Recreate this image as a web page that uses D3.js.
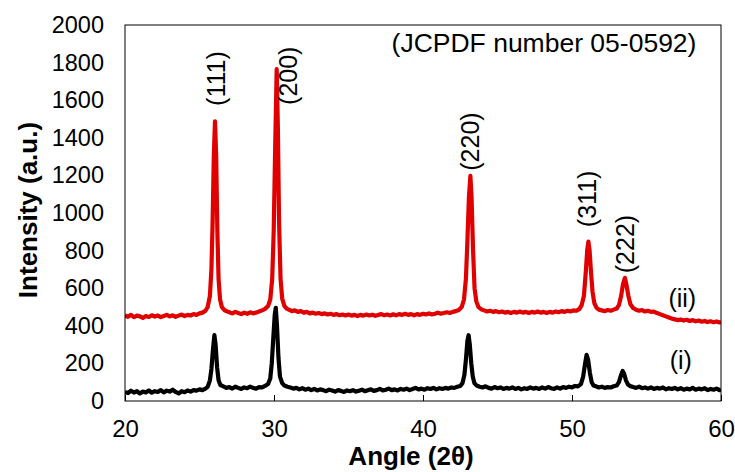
<!DOCTYPE html>
<html>
<head>
<meta charset="utf-8">
<script src="https://cdn.jsdelivr.net/npm/d3@7"></script>
<style>
  html, body { margin: 0; padding: 0; background: #fff; }
  svg { display: block; }
  text { font-family: "Liberation Sans", Arial, sans-serif; fill: #000; }
</style>
</head>
<body>
<div id="chart"></div>
<script>
// ---- data ----
const xTicks = [20, 30, 40, 50, 60];
const yTicks = [0, 200, 400, 600, 800, 1000, 1200, 1400, 1600, 1800, 2000];

// sample (ii) – red trace: [angle 2θ, intensity]
const seriesII = [
[20.0,455],[20.2,448],[20.4,458],[20.6,446],[20.8,454],[21.0,450],[21.2,442],[21.4,452],[21.6,447],[21.8,456],
[22.0,449],[22.2,455],[22.4,446],[22.6,452],[22.8,458],[23.0,450],[23.2,456],[23.4,448],[23.6,454],[23.8,460],
[24.0,452],[24.2,458],[24.4,455],[24.6,462],[24.8,458],[25.0,466],[25.2,470],[25.4,480],[25.55,500],[25.7,560],
[25.8,700],[25.88,950],[25.96,1300],[26.04,1488],[26.12,1300],[26.2,900],[26.28,650],[26.38,540],[26.5,500],[26.65,485],
[26.8,478],[27.0,472],[27.2,466],[27.4,474],[27.6,468],[27.8,462],[28.0,470],[28.2,464],[28.4,472],[28.6,466],
[28.8,470],[29.0,476],[29.2,482],[29.4,490],[29.6,505],[29.75,540],[29.88,650],[29.98,900],[30.08,1350],[30.18,1765],
[30.26,1450],[30.34,950],[30.44,650],[30.55,545],[30.7,505],[30.85,492],[31.0,486],[31.2,478],[31.4,482],[31.6,474],
[31.8,478],[32.0,470],[32.2,474],[32.4,466],[32.6,470],[32.8,464],[33.0,468],[33.2,462],[33.4,466],[33.6,460],
[33.8,464],[34.0,458],[34.2,462],[34.4,456],[34.6,460],[34.8,455],[35.0,460],[35.2,454],[35.4,458],[35.6,452],
[35.8,458],[36.0,454],[36.2,460],[36.4,455],[36.6,459],[36.8,453],[37.0,458],[37.2,462],[37.4,456],[37.6,460],
[37.8,455],[38.0,461],[38.2,456],[38.4,462],[38.6,458],[38.8,464],[39.0,458],[39.2,462],[39.4,456],[39.6,462],
[39.8,458],[40.0,464],[40.2,460],[40.4,466],[40.6,460],[40.8,464],[41.0,470],[41.2,464],[41.4,468],[41.6,472],
[41.8,468],[42.0,474],[42.2,478],[42.4,484],[42.6,500],[42.75,540],[42.88,650],[42.98,850],[43.08,1080],[43.18,1198],
[43.26,1080],[43.36,800],[43.46,600],[43.58,530],[43.72,500],[43.9,488],[44.1,482],[44.3,476],[44.5,480],[44.7,474],
[44.9,478],[45.1,472],[45.3,476],[45.5,470],[45.7,474],[45.9,468],[46.1,474],[46.3,470],[46.5,476],[46.7,470],
[46.9,474],[47.1,468],[47.3,474],[47.5,470],[47.7,476],[47.9,470],[48.1,474],[48.3,468],[48.5,474],[48.7,470],
[48.9,476],[49.1,472],[49.3,478],[49.5,474],[49.7,480],[49.9,476],[50.1,482],[50.3,480],[50.5,490],[50.65,510],
[50.8,560],[50.92,680],[51.02,800],[51.1,848],[51.18,800],[51.28,680],[51.38,580],[51.5,520],[51.65,495],[51.8,486],
[52.0,482],[52.2,478],[52.4,484],[52.6,480],[52.8,486],[53.0,492],[53.15,510],[53.3,560],[53.42,620],[53.55,655],
[53.65,620],[53.78,560],[53.92,515],[54.1,495],[54.3,485],[54.5,480],[54.7,484],[54.9,476],[55.1,480],[55.3,474],
[55.5,476],[55.7,468],[55.9,462],[56.1,456],[56.3,450],[56.5,444],[56.7,438],[56.9,434],[57.1,430],[57.3,433],
[57.5,428],[57.7,432],[57.9,426],[58.1,430],[58.3,424],[58.5,428],[58.7,422],[58.9,426],[59.1,420],[59.3,424],
[59.5,419],[59.7,423],[59.9,418],[60.0,420]
];

// sample (i) – black trace: [angle 2θ, intensity]
const seriesI = [
[20.0,48],[20.2,42],[20.4,55],[20.6,45],[20.8,52],[21.0,40],[21.2,50],[21.4,46],[21.6,56],[21.8,44],
[22.0,52],[22.2,48],[22.4,58],[22.6,46],[22.8,55],[23.0,50],[23.2,60],[23.4,48],[23.6,40],[23.8,52],
[24.0,47],[24.2,56],[24.4,50],[24.6,58],[24.8,55],[25.0,62],[25.2,58],[25.4,66],[25.55,75],[25.7,110],
[25.8,170],[25.9,270],[26.0,350],[26.08,300],[26.18,180],[26.28,110],[26.4,85],[26.6,78],[26.8,70],[27.0,74],
[27.2,66],[27.4,76],[27.6,70],[27.8,64],[28.0,72],[28.2,68],[28.4,76],[28.6,70],[28.8,66],[29.0,74],
[29.2,72],[29.4,80],[29.6,90],[29.75,120],[29.85,200],[29.95,330],[30.05,460],[30.12,495],[30.2,400],[30.3,230],
[30.4,130],[30.55,95],[30.7,82],[30.9,76],[31.1,72],[31.3,66],[31.5,70],[31.7,62],[31.9,68],[32.1,60],
[32.3,66],[32.5,58],[32.7,64],[32.9,56],[33.1,62],[33.3,58],[33.5,52],[33.7,60],[33.9,56],[34.1,50],
[34.3,58],[34.5,54],[34.7,48],[34.9,56],[35.1,52],[35.3,58],[35.5,50],[35.7,55],[35.9,60],[36.1,52],
[36.3,57],[36.5,62],[36.7,54],[36.9,58],[37.1,64],[37.3,56],[37.5,60],[37.7,66],[37.9,58],[38.1,62],
[38.3,56],[38.5,64],[38.7,60],[38.9,66],[39.1,58],[39.3,64],[39.5,70],[39.7,62],[39.9,66],[40.1,60],
[40.3,68],[40.5,64],[40.7,70],[40.9,62],[41.1,68],[41.3,64],[41.5,70],[41.7,66],[41.9,72],[42.1,70],
[42.3,76],[42.5,80],[42.65,95],[42.78,140],[42.88,220],[42.98,320],[43.06,350],[43.14,300],[43.24,200],[43.34,130],
[43.45,95],[43.6,82],[43.8,76],[44.0,72],[44.2,78],[44.4,70],[44.6,66],[44.8,74],[45.0,68],[45.2,72],
[45.4,64],[45.6,70],[45.8,66],[46.0,72],[46.2,64],[46.4,70],[46.6,62],[46.8,68],[47.0,64],[47.2,72],
[47.4,66],[47.6,70],[47.8,64],[48.0,72],[48.2,66],[48.4,74],[48.6,68],[48.8,64],[49.0,72],[49.2,66],
[49.4,74],[49.6,70],[49.8,76],[50.0,72],[50.2,80],[50.4,78],[50.6,90],[50.75,130],[50.88,200],[50.98,245],
[51.08,220],[51.2,150],[51.32,100],[51.45,82],[51.6,78],[51.8,72],[52.0,76],[52.2,70],[52.4,74],[52.6,72],
[52.8,78],[53.0,82],[53.15,100],[53.3,140],[53.4,160],[53.5,145],[53.62,110],[53.75,88],[53.9,80],[54.1,74],
[54.3,70],[54.5,76],[54.7,68],[54.9,72],[55.1,66],[55.3,72],[55.5,64],[55.7,70],[55.9,66],[56.1,72],
[56.3,62],[56.5,68],[56.7,64],[56.9,70],[57.1,62],[57.3,68],[57.5,60],[57.7,66],[57.9,62],[58.1,70],
[58.3,60],[58.5,66],[58.7,62],[58.9,68],[59.1,58],[59.3,64],[59.5,60],[59.7,66],[59.9,58],[60.0,62]
];

// peak labels: text, angle, intensity at which label center sits
const peakLabels  = ["(111)", "(200)", "(220)", "(311)", "(222)"];
const peakAngles  = [26.15, 30.95, 43.15, 51.05, 53.55];
const peakLevels  = [1715, 1730, 1380, 1075, 835];

const seriesLabels = ["(ii)", "(i)"];
const seriesLabelAngles = [57.4, 57.3];
const seriesLabelLevels = [545, 215];

const titleText = "(JCPDF number 05-0592)";
const xTitle = "Angle (2θ)";
const yTitle = "Intensity (a.u.)";

// ---- layout ----
const W = 735, H = 472;
const m = { left: 125, right: 14, top: 25, bottom: 71 };

const svg = d3.select("#chart").append("svg").attr("width", W).attr("height", H);

const x = d3.scaleLinear().domain([20, 60]).range([m.left, W - m.right]);
const y = d3.scaleLinear().domain([0, 2000]).range([H - m.bottom, m.top]);

svg.append("clipPath").attr("id", "clip")
  .append("rect")
  .attr("x", m.left).attr("y", m.top)
  .attr("width", W - m.left - m.right).attr("height", H - m.top - m.bottom);

const line = d3.line().x(d => x(d[0])).y(d => y(d[1]));

const plot = svg.append("g").attr("clip-path", "url(#clip)");
plot.append("path").datum(seriesI)
  .attr("d", line).attr("fill", "none")
  .attr("stroke", "#000").attr("stroke-width", 4.2).attr("stroke-linejoin", "round");
plot.append("path").datum(seriesII)
  .attr("d", line).attr("fill", "none")
  .attr("stroke", "#e00000").attr("stroke-width", 4.2).attr("stroke-linejoin", "round");

// frame
svg.append("rect")
  .attr("x", m.left).attr("y", m.top)
  .attr("width", W - m.left - m.right).attr("height", H - m.top - m.bottom)
  .attr("fill", "none").attr("stroke", "#000").attr("stroke-width", 1);

// x axis (inward ticks)
const xAxis = d3.axisBottom(x).tickValues(xTicks).tickSizeInner(-6).tickSizeOuter(0).tickPadding(19);
const gx = svg.append("g").attr("transform", `translate(0,${H - m.bottom})`).call(xAxis);
gx.select(".domain").remove();
gx.selectAll("line").attr("stroke", "#000");
gx.selectAll("text").attr("font-size", 24).attr("font-family", "Liberation Sans, Arial, sans-serif");

// y axis (no ticks)
const yAxis = d3.axisLeft(y).tickValues(yTicks).tickFormat(d3.format("d")).tickSize(0).tickPadding(21);
const gy = svg.append("g").attr("transform", `translate(${m.left},0)`).call(yAxis);
gy.select(".domain").remove();
gy.selectAll("text").attr("font-size", 23.5).attr("font-family", "Liberation Sans, Arial, sans-serif");

// axis titles
svg.append("text")
  .attr("x", (m.left + W - m.right) / 2 - 12).attr("y", 465)
  .attr("text-anchor", "middle").attr("font-size", 26).attr("font-weight", "bold")
  .text(xTitle);
svg.append("text")
  .attr("transform", `translate(37,${(m.top + H - m.bottom) / 2 - 3}) rotate(-90)`)
  .attr("text-anchor", "middle").attr("font-size", 26).attr("font-weight", "bold")
  .text(yTitle);

// title
svg.append("text")
  .attr("x", 544).attr("y", 52)
  .attr("text-anchor", "middle").attr("font-size", 26.5)
  .text(titleText);

// peak labels (rotated)
peakLabels.forEach((t, i) => {
  svg.append("text")
    .attr("transform", `translate(${x(peakAngles[i])},${y(peakLevels[i])}) rotate(-90)`)
    .attr("text-anchor", "middle").attr("dy", "0.35em").attr("font-size", 25)
    .text(t);
});

// series labels
seriesLabels.forEach((t, i) => {
  svg.append("text")
    .attr("x", x(seriesLabelAngles[i])).attr("y", y(seriesLabelLevels[i]))
    .attr("text-anchor", "middle").attr("dy", "0.35em").attr("font-size", 25)
    .text(t);
});
</script>
</body>
</html>
